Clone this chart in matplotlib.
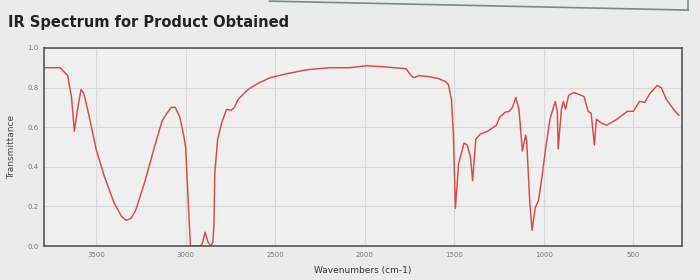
import numpy as np
import matplotlib
matplotlib.use("Agg")
import matplotlib.pyplot as plt
from matplotlib.lines import Line2D

# spectrum (wavenumber cm-1, transmittance)
wavenumber = [3784, 3700, 3658, 3637, 3621, 3605, 3584, 3568, 3542, 3500,
              3453, 3400, 3358, 3332, 3305, 3279, 3226, 3174, 3132, 3105,
              3079, 3058, 3032, 3011, 3000, 2984, 2973, 2918, 2908, 2891,
              2875, 2859, 2848, 2842, 2837, 2821, 2799, 2772, 2745, 2728,
              2707, 2652, 2598, 2527, 2433, 2322, 2194, 2083, 1989, 1901,
              1769, 1742, 1725, 1698, 1643, 1588, 1549, 1533, 1516, 1505,
              1494, 1476, 1446, 1428, 1410, 1398, 1380, 1355, 1313, 1265,
              1247, 1217, 1193, 1175, 1157, 1139, 1120, 1102, 1096, 1078,
              1066, 1048, 1030, 1012, 989, 966, 937, 925, 920, 902,
              891, 879, 862, 833, 805, 776, 753, 736, 718, 707,
              678, 649, 592, 534, 500, 466, 437, 408, 368, 345,
              316, 276, 247]
transmittance = [0.90, 0.90, 0.86, 0.75, 0.58, 0.68, 0.79, 0.77, 0.67, 0.49,
                 0.35, 0.22, 0.15, 0.13, 0.14, 0.18, 0.33, 0.50, 0.63, 0.67,
                 0.70, 0.70, 0.65, 0.56, 0.50, 0.20, 0.00, 0.00, 0.01, 0.07,
                 0.02, 0.00, 0.02, 0.10, 0.37, 0.54, 0.62, 0.69, 0.685, 0.70,
                 0.74, 0.79, 0.82, 0.85, 0.87, 0.89, 0.90, 0.90, 0.91, 0.905,
                 0.895, 0.86, 0.85, 0.86, 0.855, 0.845, 0.83, 0.815, 0.74, 0.56,
                 0.19, 0.415, 0.52, 0.51, 0.45, 0.33, 0.54, 0.565, 0.58, 0.61,
                 0.65, 0.675, 0.68, 0.70, 0.75, 0.69, 0.48, 0.56, 0.53, 0.21,
                 0.08, 0.195, 0.23, 0.34, 0.50, 0.64, 0.73, 0.68, 0.49, 0.69,
                 0.73, 0.69, 0.76, 0.775, 0.765, 0.755, 0.68, 0.67, 0.51, 0.64,
                 0.62, 0.61, 0.64, 0.68, 0.68, 0.73, 0.725, 0.77, 0.81, 0.80,
                 0.74, 0.69, 0.66]

xticks = [3500, 3000, 2500, 2000, 1500, 1000, 500]
yticks = [0.0, 0.2, 0.4, 0.6, 0.8, 1.0]

bg = "#ebebeb"
fig = plt.figure(figsize=(7, 2.8), dpi=100, facecolor=bg)
ax = fig.add_axes([0.063, 0.121, 0.911, 0.708])
ax.set_facecolor("#efefef")

ax.plot(wavenumber, transmittance, color="#d64a4a", lw=1.05)

ax.set_xlim(3790, 230)
ax.set_ylim(0, 1.0)
ax.set_xticks(xticks)
ax.set_yticks(yticks)
ax.set_yticklabels(["%.1f" % v for v in yticks])
ax.tick_params(length=0, labelsize=5, labelcolor="#777777", pad=4)
ax.grid(True, color="#d8d8d8", lw=0.8)
for s in ax.spines.values():
    s.set_color("#555555")
    s.set_linewidth(1.2)

ax.set_xlabel("Wavenumbers (cm-1)", fontsize=6.5, color="#333333", labelpad=6)
ax.set_ylabel("Transmittance", fontsize=6.5, color="#444444", labelpad=8)

fig.text(0.012, 0.905, "IR Spectrum for Product Obtained", fontsize=10.5,
         fontweight="bold", color="#222222")

# edge of the panel above, visible in the screenshot
fig.add_artist(Line2D([0.385, 0.983], [0.996, 0.964], color="#6f8f86", lw=1.2,
                      transform=fig.transFigure))
fig.add_artist(Line2D([0.983, 0.983], [1.0, 0.964], color="#6f8f86", lw=1.2,
                      transform=fig.transFigure))

fig.savefig("out.png", dpi=100, facecolor=bg)
